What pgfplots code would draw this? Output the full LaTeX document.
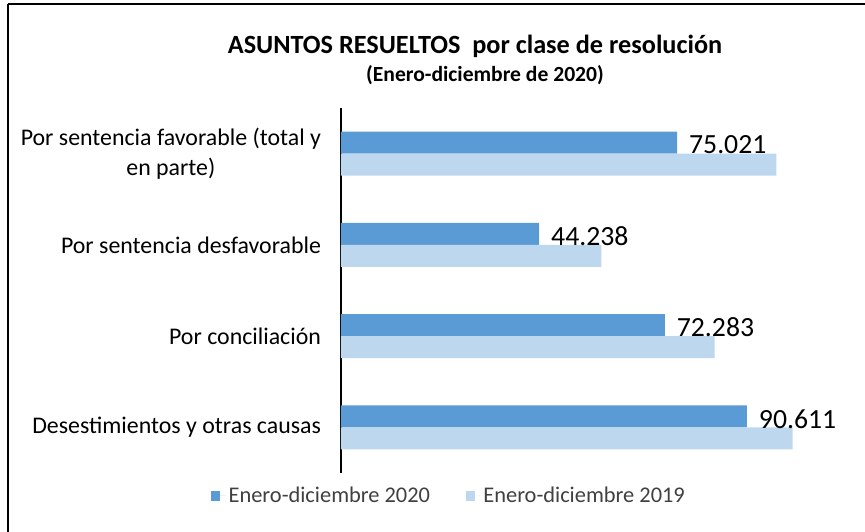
\documentclass[border=0pt]{standalone}
\usepackage{pgfplots}
\pgfplotsset{compat=1.18}
\usepackage{fontspec}
\setmainfont{Carlito}
\definecolor{c20}{HTML}{5B9BD5}
\definecolor{c19}{HTML}{BDD7EE}
\definecolor{legtxt}{HTML}{404040}
\begin{document}
\begin{tikzpicture}
\begin{scope}[x=0.75pt,y=0.75pt]
\useasboundingbox (0,0) rectangle (865,532);
\draw[line width=1.4pt] (8,528) -- (865,528);
\draw[line width=1.4pt] (8,528) -- (8,0);
\node[font=\fontsize{19.7}{23}\selectfont\bfseries] at (475,486) {ASUNTOS RESUELTOS\ \ por clase de resolución};
\node[font=\fontsize{16.2}{20}\selectfont\bfseries] at (485,457) {(Enero-diciembre de 2020)};
\end{scope}
\begin{axis}[
  at={(255.75pt,44.25pt)}, anchor=south west,
  scale only axis, width=369.6pt, height=273.75pt,
  xmin=0, xmax=110000, ymin=-0.5, ymax=3.5, y dir=reverse,
  axis x line=none, axis y line*=left,
  axis line style={line width=1.2pt, black},
  ytick={0,1,2,3},
  yticklabels={{Por sentencia favorable (total y\\en parte)},{Por sentencia desfavorable},{Por conciliación},{Desestimientos y otras causas}},
  major tick length=0pt,
  yticklabel style={font=\fontsize{17.9}{22.5}\selectfont, align=center, xshift=-11.5pt},
  legend columns=2,
  legend style={draw=none, at={(0.220,-0.063)}, anchor=center, font=\fontsize{16.8}{19}\selectfont\color{legtxt}, /tikz/every even column/.append style={column sep=25pt}},
  legend image code/.code={\fill[#1] (0pt,-3.4pt) rectangle (6.75pt,3.4pt); \path (0pt,0pt) -- (11pt,0pt);},
  clip=false,
]
\addplot[xbar, bar width=0.24, bar shift=-0.12, fill=c20, draw=none,
  nodes near coords, point meta=explicit symbolic,
  nodes near coords style={anchor=west, font=\fontsize{20.8}{24}\selectfont, text=black, xshift=5.5pt, yshift=6.4pt}]
  coordinates {(75021,0)[75.021] (44238,1)[44.238] (72283,2)[72.283] (90611,3)[90.611]};
\addlegendentry{Enero-diciembre 2020}
\addplot[xbar, bar width=0.24, bar shift=0.12, fill=c19, draw=none]
  coordinates {(97200,0) (58100,1) (83400,2) (100800,3)};
\addlegendentry{Enero-diciembre 2019}
\end{axis}
\end{tikzpicture}
\end{document}
